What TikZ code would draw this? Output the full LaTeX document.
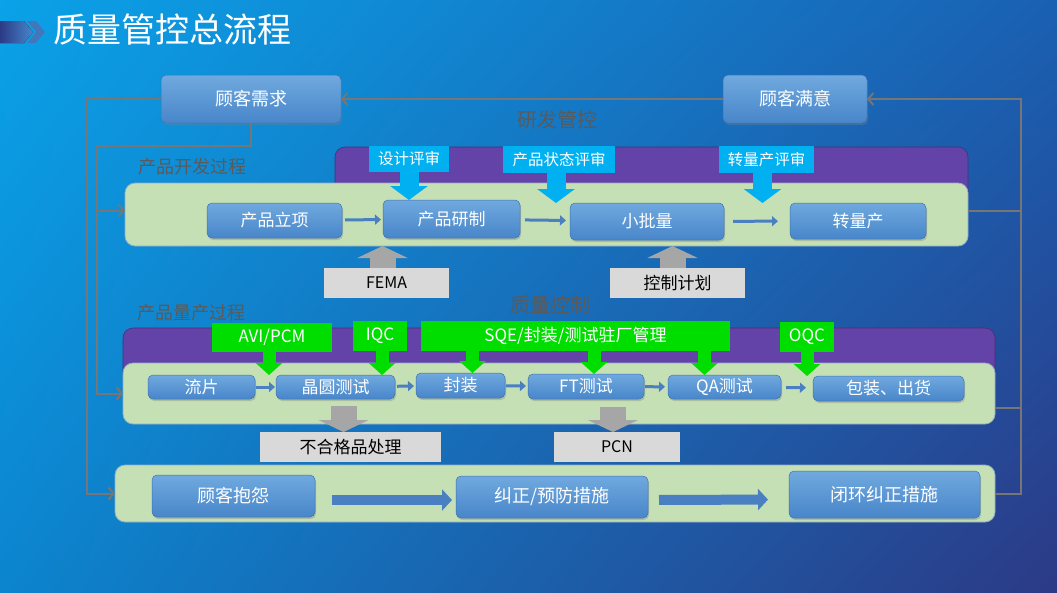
\documentclass[tikz,border=0pt]{standalone}
\usepackage{fontspec}
\setmainfont{Noto Sans CJK SC}
\usetikzlibrary{arrows.meta,shadows,shadings}
\definecolor{bgul}{HTML}{0AA2E8}
\definecolor{bgur}{HTML}{1A60B2}
\definecolor{bgll}{HTML}{0C84CE}
\definecolor{bglr}{HTML}{2C3A86}
\definecolor{boxtop}{HTML}{70A9DE}
\definecolor{boxbot}{HTML}{4886CA}
\definecolor{boxedge}{HTML}{3E73B2}
\definecolor{pale}{HTML}{C5E0B4}
\definecolor{paleedge}{HTML}{92ACC4}
\definecolor{violet}{HTML}{6443A8}
\definecolor{cyantag}{HTML}{00B0F0}
\definecolor{greentag}{HTML}{00DE00}
\definecolor{graytag}{HTML}{D9D9D9}
\definecolor{grayarrow}{HTML}{A6A6A6}
\definecolor{fbgray}{HTML}{767676}
\definecolor{secgray}{HTML}{5A5A5A}
\definecolor{arrblue}{HTML}{4A80C2}
\tikzset{
  wh/.style 2 args={minimum width=#1pt,minimum height=#2pt,inner sep=0pt,outer sep=0pt},
  bluebox/.style={rounded corners=5pt,top color=boxtop,bottom color=boxbot,draw=boxedge,line width=0.5pt,
    text=white,font=\fontsize{17}{17}\selectfont,drop shadow={shadow xshift=1pt,shadow yshift=-2pt,opacity=0.35}},
  palebox/.style={rounded corners=10pt,fill=pale,draw=paleedge,line width=0.8pt},
  violetbox/.style={rounded corners=10pt,fill=violet,draw=violet!70!black,line width=0.6pt},
  cyantagbox/.style={fill=cyantag,text=white,font=\fontsize{15.5}{15.5}\selectfont},
  greentagbox/.style={fill=greentag,text=white,font=\fontsize{17}{17}\selectfont},
  graytagbox/.style={fill=graytag,text=black,font=\fontsize{16}{16}\selectfont},
  seclabel/.style={text=secgray,font=\fontsize{18}{18}\selectfont},
  fbplain/.style={draw=fbgray,line width=2pt},
  fbline/.style={fbplain,-{Straight Barb[length=5pt,width=12pt]}},
  smallarr/.style={draw=arrblue,line width=3pt,-{Triangle[length=6pt,width=10pt]}},
  blockarr/.style={draw=arrblue,line width=10pt,-{Triangle[length=10pt,width=21pt]}},
  cyanarr/.style={draw=cyantag,line width=19pt,-{Triangle[length=14pt,width=37pt]}},
  greenarr/.style={draw=greentag,line width=13pt,-{Triangle[length=12pt,width=26pt]}},
  grayarr/.style={draw=grayarrow,line width=26pt,-{Triangle[length=12pt,width=50pt]}}
}
\begin{document}
\begin{tikzpicture}[x=1pt,y=-1pt]
  \useasboundingbox (0,0) rectangle (1057,592);
  \shade[upper left=bgul,upper right=bgur,lower left=bgll,lower right=bglr] (0,0) rectangle (1057,592);
  % title
  \fill[left color=bglr,right color=boxbot] (0,21) -- (24,21) -- (33,32) -- (24,43) -- (0,43) -- cycle;
  \fill[boxbot!80!bglr] (27,21) -- (36,21) -- (45,32) -- (36,43) -- (27,43) -- (36,32) -- cycle;
  \node[anchor=west,text=white,font=\fontsize{34}{34}\selectfont] (title) at (50,30) {质量管控总流程};

  \node[bluebox,wh={180}{48},font=\fontsize{18}{18}\selectfont] (need) at (251,99) {顾客需求};
  \node[bluebox,wh={144}{48},font=\fontsize{18}{18}\selectfont] (sat) at (795,99) {顾客满意};
  \node[seclabel,font=\fontsize{20}{20}\selectfont] (devctl) at (557,120) {研发管控};
  \node[seclabel] (devlbl) at (192,167) {产品开发过程};

  % development stage
  \fill[violetbox] (335,147) rectangle (968,205);
  \node[palebox,wh={843}{63}] (devbox) at (546.5,214.5) {};
  \node[bluebox,wh={135}{35}] (ndev1) at (274.5,220.5) {产品立项};
  \node[bluebox,wh={137}{38}] (ndev2) at (451.5,219) {产品研制};
  \node[bluebox,wh={154}{37}] (ndev3) at (647,221.5) {小批量};
  \node[bluebox,wh={136}{36}] (ndev4) at (858,221) {转量产};
  \node[cyantagbox,wh={80}{26}] (rev1) at (409,159) {设计评审};
  \node[cyantagbox,wh={112}{27}] (rev2) at (559,159.5) {产品状态评审};
  \node[cyantagbox,wh={95}{27}] (rev3) at (766.5,159.5) {转量产评审};
  \node[graytagbox,wh={125}{30}] (fema) at (386.5,283) {FEMA};
  \node[graytagbox,wh={135}{30},font=\fontsize{17}{17}\selectfont] (plan) at (677.5,283) {控制计划};
  \draw[smallarr,shorten <=3pt,shorten >=2pt] (ndev1) -- (ndev2);
  \draw[smallarr,shorten <=5pt,shorten >=4pt] (ndev2) -- (ndev3);
  \draw[smallarr,shorten <=9pt,shorten >=12pt] (ndev3) -- (ndev4);
  \draw[cyanarr] (rev1.south) -- (rev1.south |- ndev2.north);
  \draw[cyanarr] ([xshift=-3pt]rev2.south) -- ([xshift=-3pt]rev2.south |- ndev3.north);
  \draw[cyanarr] ([xshift=-4pt]rev3.south) -- ([xshift=-4pt]rev3.south |- ndev4.north);
  \draw[grayarr] ([xshift=-4pt]fema.north) -- ([xshift=-4pt]fema.north |- devbox.south);
  \draw[grayarr] ([xshift=-5pt]plan.north) -- ([xshift=-5pt]plan.north |- devbox.south);

  % mass production stage
  \node[seclabel,font=\fontsize{20}{20}\selectfont] (qctl) at (550,305) {质量控制};
  \node[seclabel] (mslbl) at (191,313) {产品量产过程};
  \fill[violetbox] (123,328) rectangle (995,385);
  \node[palebox,wh={872}{61}] (msbox) at (559,393.5) {};
  \node[bluebox,wh={107}{24}] (chip) at (201.5,387) {流片};
  \node[bluebox,wh={119}{24}] (wafer) at (335.5,387) {晶圆测试};
  \node[bluebox,wh={89}{25}] (pkg) at (460.5,385.5) {封装};
  \node[bluebox,wh={116}{25}] (ft) at (586,386.5) {FT测试};
  \node[bluebox,wh={113}{24}] (qa) at (724.5,387) {QA测试};
  \node[bluebox,wh={151}{25}] (ship) at (888.5,388.5) {包装、出货};
  \node[greentagbox,wh={120}{29}] (avi) at (272,337.5) {AVI/PCM};
  \node[greentagbox,wh={54}{30}] (iqc) at (380,336) {IQC};
  \node[greentagbox,wh={309}{30}] (sqe) at (575.5,336) {SQE/封装/测试驻厂管理};
  \node[greentagbox,wh={54}{30}] (oqc) at (807,337) {OQC};
  \node[graytagbox,wh={181}{30},font=\fontsize{17}{17}\selectfont] (reject) at (350.5,447) {不合格品处理};
  \node[graytagbox,wh={126}{30}] (pcn) at (617,447) {PCN};
  \draw[smallarr,shorten <=1pt,shorten >=1pt] (chip) -- (wafer);
  \draw[smallarr,shorten <=2pt,shorten >=2pt] (wafer) -- (pkg);
  \draw[smallarr,shorten <=1pt,shorten >=2pt] (pkg) -- (ft);
  \draw[smallarr,shorten <=1pt,shorten >=3pt] (ft) -- (qa);
  \draw[smallarr,shorten <=5pt,shorten >=7pt] (qa) -- (ship);
  \draw[greenarr] ([xshift=-3pt]avi.south) -- ([xshift=-3pt]avi.south |- wafer.north);
  \draw[greenarr] ([xshift=2pt]iqc.south) -- ([xshift=2pt]iqc.south |- wafer.north);
  \draw[greenarr] ([xshift=12pt]pkg.north |- sqe.south) -- ([xshift=12pt]pkg.north);
  \draw[greenarr] ([xshift=8pt]ft.north |- sqe.south) -- ([xshift=8pt]ft.north);
  \draw[greenarr] ([xshift=-20pt]qa.north |- sqe.south) -- ([xshift=-20pt]qa.north);
  \draw[greenarr] (oqc.south) -- (oqc.south |- ship.north);
  \draw[grayarr,shorten <=7pt] ([xshift=-7pt]reject.north |- wafer.south) -- ([xshift=-7pt]reject.north);
  \draw[grayarr,shorten <=8pt] ([xshift=-4pt]pcn.north |- ft.south) -- ([xshift=-4pt]pcn.north);

  % complaint loop
  \node[palebox,wh={880}{57}] (fixbox) at (555,493.5) {};
  \node[bluebox,wh={163}{42},font=\fontsize{18}{18}\selectfont] (cmpl) at (233.5,496) {顾客抱怨};
  \node[bluebox,wh={192}{42},font=\fontsize{18}{18}\selectfont] (corr) at (552,497) {纠正/预防措施};
  \node[bluebox,wh={191}{47},font=\fontsize{18}{18}\selectfont] (close) at (884.5,494.5) {闭环纠正措施};
  \draw[blockarr,shorten <=17pt,shorten >=4pt] ([yshift=-4pt]cmpl.east) -- ([yshift=-3pt]corr.west);
  \draw[blockarr,shorten <=11pt,shorten >=21pt] ([yshift=-3pt]corr.east) -- ([yshift=-5pt]close.west);

  % feedback lines
  \coordinate (rx) at (1021,0);
  \coordinate (lo) at (87,0);
  \coordinate (li) at (97,146);
  \coordinate (devr) at ([yshift=4pt]devbox.east);
  \coordinate (devl) at ([yshift=4pt]devbox.west);
  \coordinate (msr) at ([yshift=-14pt]msbox.east);
  \draw[fbline] (sat.west) -- (need.east);
  \draw[fbline] (devr) -- (devr -| rx) |- (sat.east);
  \draw[fbplain] (msr) -- (msr -| rx);
  \draw[fbplain] (fixbox.east) -- (fixbox.east -| rx) -- (devr -| rx);
  \draw[fbline] (need.west) -- (need.west -| lo) |- (fixbox.west);
  \draw[fbline] (need.south) |- (li) -- (li |- msbox.west) -- (msbox.west);
  \draw[fbline] (li |- devl) -- (devl);
\end{tikzpicture}
\end{document}
